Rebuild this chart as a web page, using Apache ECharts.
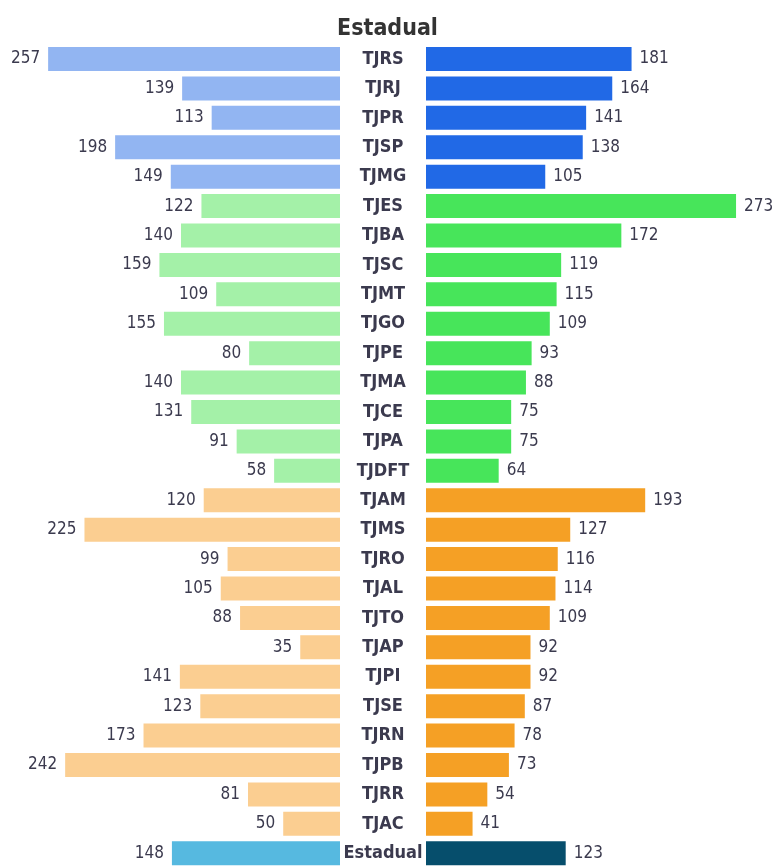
<!DOCTYPE html>
<html>
<head>
<meta charset="utf-8">
<script src="https://cdn.jsdelivr.net/npm/echarts@6/dist/echarts.min.js"></script>
<style>
  html, body { margin: 0; padding: 0; background: #fff; }
  #chart { width: 775px; height: 868px; }
</style>
</head>
<body>
<div id="chart"></div>
<script>
// tribunais, de cima para baixo
var tribunais = ['TJRS', 'TJRJ', 'TJPR', 'TJSP', 'TJMG', 'TJES', 'TJBA', 'TJSC', 'TJMT', 'TJGO',
  'TJPE', 'TJMA', 'TJCE', 'TJPA', 'TJDFT', 'TJAM', 'TJMS', 'TJRO', 'TJAL', 'TJTO', 'TJAP', 'TJPI',
  'TJSE', 'TJRN', 'TJPB', 'TJRR', 'TJAC', 'Estadual'];
var valoresEsq = [257, 139, 113, 198, 149, 122, 140, 159, 109, 155, 80, 140, 131, 91, 58,
  120, 225, 99, 105, 88, 35, 141, 123, 173, 242, 81, 50, 148];
var valoresDir = [181, 164, 141, 138, 105, 273, 172, 119, 115, 109, 93, 88, 75, 75, 64,
  193, 127, 116, 114, 109, 92, 92, 87, 78, 73, 54, 41, 123];
// grupo de cada linha: 0 = grande, 1 = medio, 2 = pequeno, 3 = total
var grupos = [0, 0, 0, 0, 0, 1, 1, 1, 1, 1, 1, 1, 1, 1, 1,
  2, 2, 2, 2, 2, 2, 2, 2, 2, 2, 2, 2, 3];

var coresEsq = ['#92b5f2', '#a4f1a8', '#fbce91', '#56b9e0'];
var coresDir = ['#2169e6', '#47e55a', '#f5a025', '#064e6c'];

var fonte = '"DejaVu Sans Condensed", "DejaVu Sans", sans-serif';
var corTexto = '#3b3a4e';

var chart = echarts.init(document.getElementById('chart'));

chart.setOption({
  animation: false,
  title: {
    text: 'Estadual',
    left: 'center',
    top: 13,
    textStyle: { fontFamily: fonte, fontSize: 23, fontWeight: 'bold condensed', color: '#333333' }
  },
  grid: [
    { left: 22, width: 318, top: 44.3, height: 828.8 },
    { left: 426, width: 318, top: 44.3, height: 828.8 }
  ],
  xAxis: [
    { gridIndex: 0, type: 'value', min: 0, max: 280, inverse: true, show: false },
    { gridIndex: 1, type: 'value', min: 0, max: 280, show: false }
  ],
  yAxis: [
    {
      gridIndex: 0, type: 'category', data: tribunais, inverse: true,
      axisLine: { show: false }, axisTick: { show: false }, axisLabel: { show: false }
    },
    {
      gridIndex: 1, type: 'category', data: tribunais, inverse: true,
      axisLine: { show: false }, axisTick: { show: false },
      axisLabel: {
        align: 'center', margin: 43,
        fontFamily: fonte, fontSize: 18, fontWeight: 'bold condensed', color: corTexto
      }
    }
  ],
  series: [
    {
      type: 'bar', xAxisIndex: 0, yAxisIndex: 0, barWidth: 24,
      data: valoresEsq.map(function (v, i) {
        return { value: v, itemStyle: { color: coresEsq[grupos[i]] } };
      }),
      label: {
        show: true, position: 'left', distance: 8,
        fontFamily: fonte, fontSize: 17, fontWeight: 'normal condensed', color: corTexto
      }
    },
    {
      type: 'bar', xAxisIndex: 1, yAxisIndex: 1, barWidth: 24,
      data: valoresDir.map(function (v, i) {
        return { value: v, itemStyle: { color: coresDir[grupos[i]] } };
      }),
      label: {
        show: true, position: 'right', distance: 8,
        fontFamily: fonte, fontSize: 17, fontWeight: 'normal condensed', color: corTexto
      }
    }
  ]
});
</script>
</body>
</html>
